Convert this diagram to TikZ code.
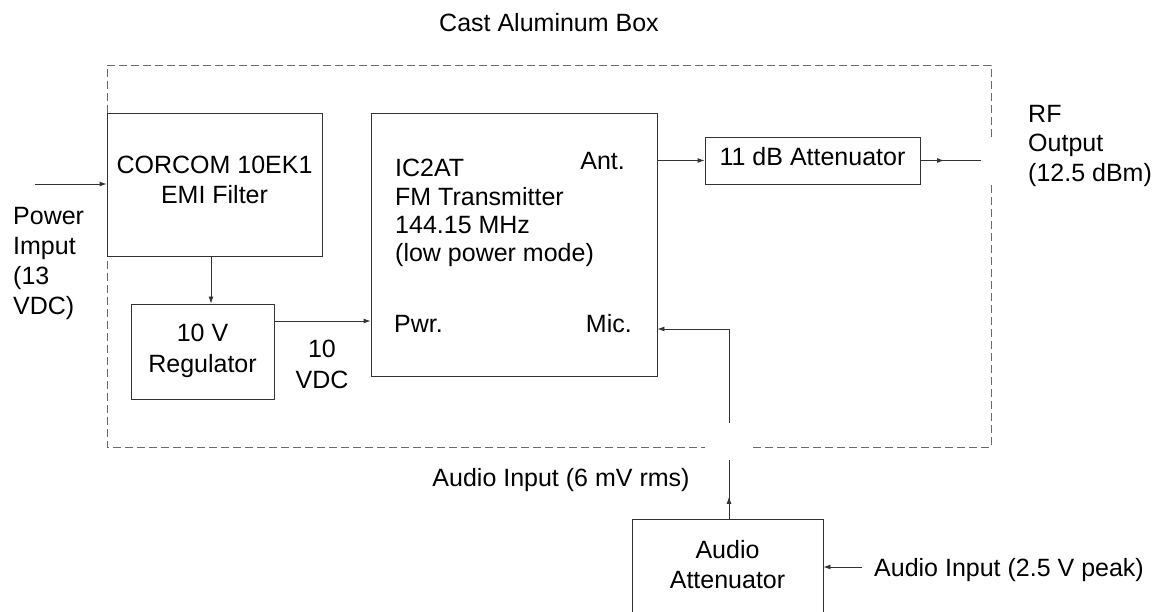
\documentclass[tikz,border=0pt]{standalone}
\usepackage{fontspec}
\setmainfont{Liberation Sans}
\usetikzlibrary{arrows.meta,decorations.markings}
\definecolor{linecol}{HTML}{333333}
\definecolor{dashcol}{HTML}{6A6A6A}
\begin{document}
\begin{tikzpicture}[x=1pt,y=-1pt,
  box/.style={draw=linecol,line width=0.9pt,rectangle,inner sep=0pt},
  txt/.style={inner sep=0pt,font=\fontsize{25}{30}\selectfont},
  arr/.style={draw=linecol,line width=0.9pt,-{Latex[length=7pt,width=5pt]}},
  midarrow/.style={draw=linecol,line width=0.9pt,postaction={decorate},
    decoration={markings,mark=at position #1 with {\arrow{Latex[length=7pt,width=5pt]}}}},
  midarrow/.default=0.5,
  dashbox/.style={draw=dashcol,line width=0.9pt,dash pattern=on 8pt off 4pt}
]
\clip (0,0) rectangle (1163,612);
\fill[white] (0,0) rectangle (1163,612);

% enclosure (dashed)
\draw[dashbox] (991,137) -- (991,65) -- (107,65) -- (107,447) -- (705,447);
\draw[dashbox] (753,447) -- (991,447) -- (991,184);

% boxes
\node[box,minimum width=215pt,minimum height=143pt] (filter) at (214.5,184.5) {};
\node[box,minimum width=143pt,minimum height=95pt] (reg) at (202.5,351.5) {};
\node[box,minimum width=286pt,minimum height=263pt] (tx) at (514,244.5) {};
\node[box,minimum width=215pt,minimum height=47pt] (att) at (812.5,160.5) {};
\node[box,minimum width=191pt,minimum height=111pt] (aatt) at (727.5,574.5) {};

% texts
\node[txt,anchor=base] (title) at (549,32) {Cast Aluminum Box};
\node[txt,anchor=north,align=center] (filtertxt) at (214.5,156) {CORCOM 10EK1\\EMI Filter};
\node[txt,anchor=north west,align=left] (pwrtxt) at (13,207) {Power\\Imput\\(13\\VDC)};
\node[txt,anchor=north,align=center,font=\fontsize{25}{31}\selectfont] (regtxt) at (202.5,324) {10 V\\Regulator};
\node[txt,anchor=north,align=center,font=\fontsize{25}{31}\selectfont] (vdctxt) at (322,340) {10\\VDC};
\node[txt,anchor=north west,align=left,font=\fontsize{25}{28.4}\selectfont] (txtxt) at (395,159) {IC2AT\\FM Transmitter\\144.15 MHz\\(low power mode)};
\node[txt,anchor=base east] (ant) at (625,170) {Ant.};
\node[txt,anchor=base west] (pwr) at (394,333) {Pwr.};
\node[txt,anchor=base east] (mic) at (632,333) {Mic.};
\node[txt,anchor=base] (atttxt) at (812.5,166) {11 dB Attenuator};
\node[txt,anchor=north west,align=left,font=\fontsize{25}{29.5}\selectfont] (rftxt) at (1028,105) {RF\\Output\\(12.5 dBm)};
\node[txt,anchor=base] (ain6) at (561,486) {Audio Input (6 mV rms)};
\node[txt,anchor=north,align=center] (aatttxt) at (727.5,540) {Audio\\Attenuator};
\node[txt,anchor=base west] (ain25) at (874,576) {Audio Input (2.5 V peak)};

% connector coordinates
\coordinate (pwrin) at (35,184);
\path ([xshift=-3.5pt]filter.south) coordinate (fs);
\path ([yshift=30.5pt]reg.east) coordinate (rout);
\coordinate (rfend) at (981,160.5);
\coordinate (micbot) at (729,423);
\coordinate (micy) at (729,329);
\coordinate (audtop) at (729,460);
\coordinate (ain) at (862,567);

% connectors
\draw[arr] (pwrin) -- (pwrin -| filter.west);
\draw[arr] (fs) -- (fs |- reg.north);
\draw[arr] (rout) -- (rout -| tx.west);
\draw[arr] (att.west -| tx.east) -- (att.west);
\draw[midarrow=0.39] (att.east) -- (rfend);
\draw[arr] (micbot) -- (micy) -- (micy -| tx.east);
\draw[midarrow=0.37] (audtop |- aatt.north) -- (audtop);
\draw[arr] (ain) -- (ain -| aatt.east);
\end{tikzpicture}
\end{document}
